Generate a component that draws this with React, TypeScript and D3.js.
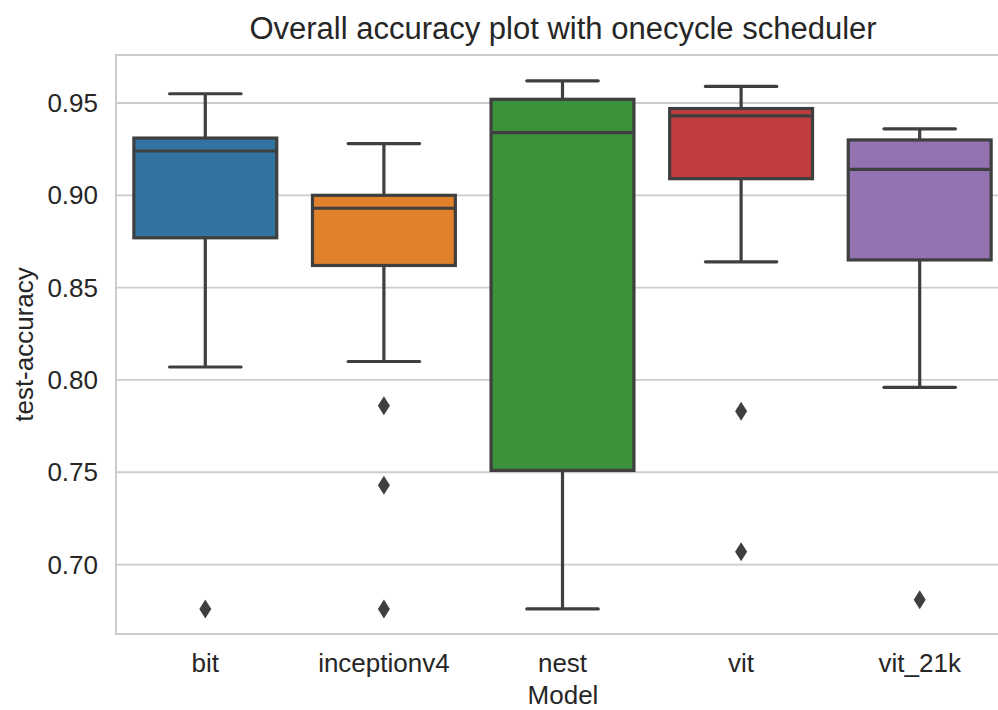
import * as d3 from "d3";
import { useEffect, useRef } from "react";

const models = ["bit", "inceptionv4", "nest", "vit", "vit_21k"];
const whiskerHigh = [0.955, 0.928, 0.962, 0.959, 0.936];
const q3 = [0.931, 0.9, 0.952, 0.947, 0.93];
const medians = [0.924, 0.893, 0.934, 0.943, 0.914];
const q1 = [0.877, 0.862, 0.751, 0.909, 0.865];
const whiskerLow = [0.807, 0.81, 0.676, 0.864, 0.796];
const outliers = [[0.676], [0.786, 0.743, 0.676], [], [0.783, 0.707], [0.681]];
const colors = ["#3274a1", "#e1812c", "#3a923a", "#c03d3e", "#9372b2"];
const yTicks = [0.7, 0.75, 0.8, 0.85, 0.9, 0.95];

export default function App() {
  const ref = useRef<SVGSVGElement>(null);

  useEffect(() => {
    if (!ref.current) return;
    document.body.style.margin = "0";
    const svg = d3.select(ref.current);
    svg.selectAll("*").remove();

    const width = 998;
    const height = 710;
    const margin = { top: 55, left: 116, bottom: 76, right: -11 };
    const innerW = width - margin.left - margin.right;
    const innerH = height - margin.top - margin.bottom;
    const line = "#3f3f3f";
    const lw = 3.2;
    const font = "'Liberation Sans', Arial, sans-serif";
    const textColor = "#262626";

    svg.attr("width", width).attr("height", height).style("font-family", font);

    const x = d3.scaleBand().domain(models).range([0, innerW]).paddingInner(0).paddingOuter(0);
    const y = d3.scaleLinear().domain([0.6624, 0.976]).range([innerH, 0]);
    const g = svg.append("g").attr("transform", `translate(${margin.left},${margin.top})`);

    // grid
    g.selectAll(".grid")
      .data(yTicks)
      .join("line")
      .attr("x1", 0)
      .attr("x2", innerW)
      .attr("y1", (d) => y(d))
      .attr("y2", (d) => y(d))
      .attr("stroke", "#cccccc")
      .attr("stroke-width", 1.8);

    // spines
    g.append("rect")
      .attr("x", 0)
      .attr("y", 0)
      .attr("width", innerW)
      .attr("height", innerH)
      .attr("fill", "none")
      .attr("stroke", "#cccccc")
      .attr("stroke-width", 2);

    const bw = x.bandwidth() * 0.8;
    const cap = bw / 2;

    models.forEach((m, i) => {
      const cx = (x(m) ?? 0) + x.bandwidth() / 2;
      const box = g.append("g");
      box.append("line")
        .attr("x1", cx).attr("x2", cx)
        .attr("y1", y(whiskerHigh[i])).attr("y2", y(q3[i]))
        .attr("stroke", line).attr("stroke-width", lw);
      box.append("line")
        .attr("x1", cx).attr("x2", cx)
        .attr("y1", y(q1[i])).attr("y2", y(whiskerLow[i]))
        .attr("stroke", line).attr("stroke-width", lw);
      [whiskerHigh[i], whiskerLow[i]].forEach((v) => {
        box.append("line")
          .attr("x1", cx - cap / 2).attr("x2", cx + cap / 2)
          .attr("y1", y(v)).attr("y2", y(v))
          .attr("stroke", line).attr("stroke-width", lw).attr("stroke-linecap", "round");
      });
      box.append("rect")
        .attr("x", cx - bw / 2)
        .attr("y", y(q3[i]))
        .attr("width", bw)
        .attr("height", y(q1[i]) - y(q3[i]))
        .attr("fill", colors[i])
        .attr("stroke", line)
        .attr("stroke-width", lw);
      box.append("line")
        .attr("x1", cx - bw / 2).attr("x2", cx + bw / 2)
        .attr("y1", y(medians[i])).attr("y2", y(medians[i]))
        .attr("stroke", line).attr("stroke-width", lw);
      box.selectAll(".out")
        .data(outliers[i])
        .join("path")
        .attr("d", "M0,-9.5L6,0L0,9.5L-6,0Z")
        .attr("transform", (d) => `translate(${cx},${y(d)})`)
        .attr("fill", line);
    });

    // y tick labels
    g.selectAll(".ytick")
      .data(yTicks)
      .join("text")
      .attr("x", -18)
      .attr("y", (d) => y(d))
      .attr("dy", "0.35em")
      .attr("text-anchor", "end")
      .style("font-size", "26px")
      .style("fill", textColor)
      .text((d) => d3.format(".2f")(d));

    // x tick labels
    g.selectAll(".xtick")
      .data(models)
      .join("text")
      .attr("x", (d) => (x(d) ?? 0) + x.bandwidth() / 2)
      .attr("y", innerH + 38)
      .attr("text-anchor", "middle")
      .style("font-size", "26px")
      .style("fill", textColor)
      .text((d) => d);

    svg.append("text")
      .attr("x", 563)
      .attr("y", 704)
      .attr("text-anchor", "middle")
      .style("font-size", "26px")
      .style("fill", textColor)
      .text("Model");

    svg.append("text")
      .attr("transform", `translate(33,${margin.top + innerH / 2}) rotate(-90)`)
      .attr("text-anchor", "middle")
      .style("font-size", "26px")
      .style("fill", textColor)
      .text("test-accuracy");

    svg.append("text")
      .attr("x", 563)
      .attr("y", 39)
      .attr("text-anchor", "middle")
      .style("font-size", "31px")
      .style("fill", textColor)
      .text("Overall accuracy plot with onecycle scheduler");
  }, []);

  return <svg ref={ref} style={{ display: "block" }} />;
}
